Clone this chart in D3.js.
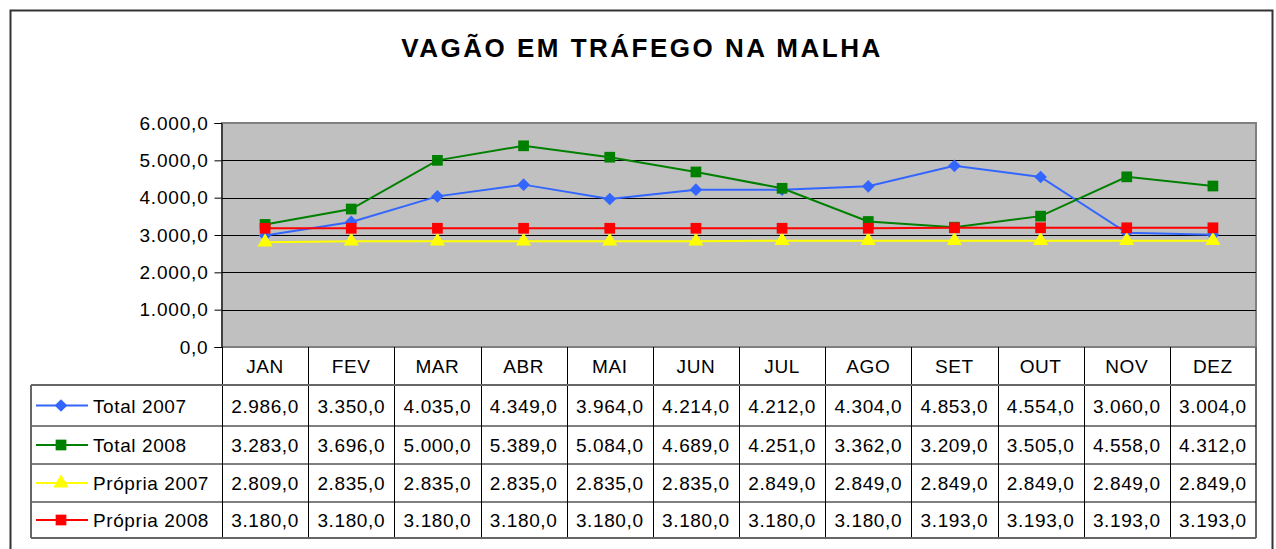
<!DOCTYPE html>
<html lang="en">
<head>
<meta charset="utf-8">
<title>Vagão em tráfego na malha</title>
<script src="https://cdn.jsdelivr.net/npm/d3@7"></script>
<style>
  body { margin: 0; background: #fff; }
  text { font-family: "Liberation Sans", Arial, sans-serif; }
</style>
</head>
<body>
<script>
// data
var months = ["JAN", "FEV", "MAR", "ABR", "MAI", "JUN", "JUL", "AGO", "SET", "OUT", "NOV", "DEZ"];
var seriesNames = ["Total 2007", "Total 2008", "Própria 2007", "Própria 2008"];
var total2007 = [2986, 3350, 4035, 4349, 3964, 4214, 4212, 4304, 4853, 4554, 3060, 3004];
var total2008 = [3283, 3696, 5000, 5389, 5084, 4689, 4251, 3362, 3209, 3505, 4558, 4312];
var propria2007 = [2809, 2835, 2835, 2835, 2835, 2835, 2849, 2849, 2849, 2849, 2849, 2849];
var propria2008 = [3180, 3180, 3180, 3180, 3180, 3180, 3180, 3180, 3193, 3193, 3193, 3193];
var yTicks = [0, 1000, 2000, 3000, 4000, 5000, 6000];

var w = 1276, h = 549;
var plotLeft = 222, plotRight = 1256, plotTop = 123, plotBottom = 347;
var rowY = [385, 426, 464, 502, 538];   // table row lines below the header
var fs = "19px", ls = "0.6px";

var series = [
  { name: seriesNames[0], values: total2007, color: "#3366ff", shape: "diamond" },
  { name: seriesNames[1], values: total2008, color: "#008000", shape: "square" },
  { name: seriesNames[2], values: propria2007, color: "#ffff00", shape: "triangle" },
  { name: seriesNames[3], values: propria2008, color: "#ff0000", shape: "square" }
];

var fmt = function(v) {
  var s = d3.format(",.1f")(v);
  return s.replace(/,/g, "#").replace(".", ",").replace(/#/g, ".");
};

var svg = d3.select("body").append("svg").attr("width", w).attr("height", h);

// outer frame
svg.append("rect").attr("x", 10.5).attr("y", 10.5).attr("width", 1262).attr("height", 560)
  .attr("fill", "#fff").attr("stroke", "#333").attr("stroke-width", 2);

svg.append("text").attr("x", 642).attr("y", 57).attr("text-anchor", "middle")
  .style("font-size", "26px").style("font-weight", "bold").style("letter-spacing", "2.5px")
  .text("VAGÃO EM TRÁFEGO NA MALHA");

var x = d3.scaleBand().domain(months).range([plotLeft, plotRight]);
var y = d3.scaleLinear().domain([0, 6000]).range([plotBottom, plotTop]);

// plot area
svg.append("rect").attr("x", plotLeft).attr("y", plotTop)
  .attr("width", plotRight - plotLeft).attr("height", plotBottom - plotTop)
  .attr("fill", "#c0c0c0").attr("stroke", "#808080").attr("stroke-width", 2);

svg.append("g").selectAll("line").data(yTicks.slice(1, -1)).enter().append("line")
  .attr("x1", plotLeft).attr("x2", plotRight)
  .attr("y1", function(d) { return Math.round(y(d)) + 0.5; })
  .attr("y2", function(d) { return Math.round(y(d)) + 0.5; })
  .attr("stroke", "#000").attr("stroke-width", 1);

var yAxis = d3.axisLeft(y).tickValues(yTicks).tickSize(7).tickPadding(6).tickFormat(fmt);
var ya = svg.append("g").attr("transform", "translate(" + (plotLeft - 0.5) + ",0)").call(yAxis);
ya.select(".domain").attr("stroke", "#000");
ya.selectAll("line").attr("stroke", "#000");
ya.selectAll("text").style("font-size", fs).style("letter-spacing", "0.8px").attr("fill", "#000")
  .attr("font-family", null);

// lines
var line = d3.line()
  .x(function(d, i) { return x(months[i]) + x.bandwidth() / 2; })
  .y(function(d) { return y(d); });

// excel style diamond: a square turned 45 degrees
var excelDiamond = {
  draw: function(ctx, size) {
    var r = Math.sqrt(size / 2);
    ctx.moveTo(0, -r); ctx.lineTo(r, 0); ctx.lineTo(0, r); ctx.lineTo(-r, 0); ctx.closePath();
  }
};
var symbolType = { diamond: excelDiamond, square: d3.symbolSquare, triangle: d3.symbolTriangle };
var symbolSize = { diamond: 80, square: 115, triangle: 100 };

series.forEach(function(s) {
  svg.append("path").datum(s.values).attr("d", line)
    .attr("fill", "none").attr("stroke", s.color).attr("stroke-width", 2);
  svg.append("g").selectAll("path").data(s.values).enter().append("path")
    .attr("transform", function(d, i) {
      return "translate(" + (x(months[i]) + x.bandwidth() / 2) + "," + y(d) + ")";
    })
    .attr("d", d3.symbol().type(symbolType[s.shape]).size(symbolSize[s.shape]))
    .attr("fill", s.color);
});

// data table
var tbl = svg.append("g");
tbl.selectAll(".mh").data(months).enter().append("text")
  .attr("x", function(d) { return x(d) + x.bandwidth() / 2; })
  .attr("y", 373).attr("text-anchor", "middle")
  .style("font-size", fs).style("letter-spacing", ls).text(function(d) { return d; });

// column lines
tbl.selectAll(".vl").data(months.concat(["end"])).enter().append("line")
  .attr("x1", function(d, i) { return i < 12 ? Math.round(x(d)) + 0.5 : plotRight; })
  .attr("x2", function(d, i) { return i < 12 ? Math.round(x(d)) + 0.5 : plotRight; })
  .attr("y1", plotBottom).attr("y2", rowY[4])
  .attr("stroke", function(d, i) { return i === 12 ? "#666" : "#000"; })
  .attr("stroke-width", function(d, i) { return i === 12 ? 2 : 1; });

// row lines
tbl.selectAll(".hl").data(rowY).enter().append("line")
  .attr("x1", 31).attr("x2", plotRight)
  .attr("y1", function(d) { return d; }).attr("y2", function(d) { return d; })
  .attr("stroke", function(d, i) { return i === 0 || i === 4 ? "#666" : "#000"; })
  .attr("stroke-width", function(d, i) { return i === 0 || i === 4 ? 2 : 1; });
tbl.append("line").attr("x1", 31).attr("x2", 31).attr("y1", rowY[0]).attr("y2", rowY[4])
  .attr("stroke", "#666").attr("stroke-width", 2);

series.forEach(function(s, r) {
  var cy = (rowY[r] + rowY[r + 1]) / 2;
  tbl.append("line").attr("x1", 36).attr("x2", 88).attr("y1", cy).attr("y2", cy)
    .attr("stroke", s.color).attr("stroke-width", 2);
  tbl.append("path").attr("transform", "translate(61," + cy + ")")
    .attr("d", d3.symbol().type(symbolType[s.shape]).size(symbolSize[s.shape]))
    .attr("fill", s.color);
  tbl.append("text").attr("x", 93).attr("y", cy + 7)
    .style("font-size", fs).style("letter-spacing", ls).text(s.name);
  tbl.selectAll(".v" + r).data(s.values).enter().append("text")
    .attr("x", function(d, i) { return x(months[i]) + x.bandwidth() / 2; })
    .attr("y", cy + 7).attr("text-anchor", "middle")
    .style("font-size", fs).style("letter-spacing", ls).text(function(d) { return fmt(d); });
});
</script>
</body>
</html>
